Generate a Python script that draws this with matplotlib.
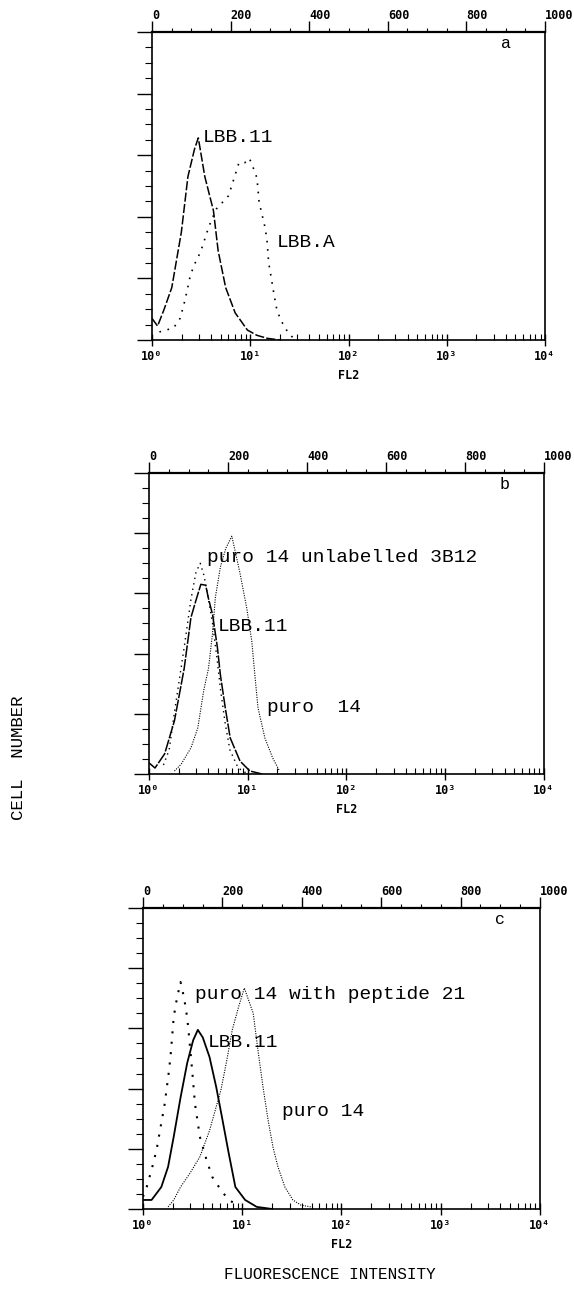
import numpy as np
import matplotlib
matplotlib.use('Agg')
from matplotlib import pyplot as plt
from matplotlib.ticker import FixedLocator, NullFormatter

plt.rcParams['font.family'] = ['Liberation Mono', 'DejaVu Sans Mono']

# ---- data (FL2 intensity, relative cell number 0..100) ----
# panel a
a_lbb11_x = [1.0, 1.14, 1.33, 1.59, 1.99, 2.32, 2.71, 2.96, 3.45, 4.22, 4.71, 5.62, 7.02, 9.36, 11.7, 15.0, 20.0]
a_lbb11_y = [7.0, 4.5, 10.0, 17.0, 35.0, 53.0, 62.0, 65.6, 53.0, 42.0, 29.0, 17.0, 8.8, 3.2, 1.5, 0.5, 0.0]
a_lbba_x = [1.19, 1.66, 1.94, 2.17, 2.42, 2.65, 2.96, 3.23, 3.78, 4.51, 6.01, 7.02, 7.67, 8.77, 9.79,
            10.7, 11.7, 12.3, 13.2, 14.1, 14.8, 15.4, 16.2, 17.4, 18.6, 20.4, 23.4, 27.5]
a_lbba_y = [2.6, 3.9, 7.1, 13.0, 20.0, 24.0, 27.0, 30.0, 36.7, 42.5, 46.8, 53.6, 57.5, 57.5, 59.0,
            56.0, 52.6, 44.8, 40.6, 36.7, 32.5, 25.0, 21.0, 15.0, 10.0, 6.5, 3.2, 0.5]

# panel b
b_lbb11_x = [1.0, 1.15, 1.44, 1.81, 2.27, 2.66, 2.99, 3.35, 3.75, 4.0, 4.4, 4.93, 5.28, 5.92, 6.64, 8.35, 10.5, 14.0]
b_lbb11_y = [3.7, 2.0, 6.7, 17.7, 35.0, 52.0, 57.7, 63.0, 62.7, 58.3, 53.0, 42.0, 33.0, 22.0, 12.0, 4.3, 1.0, 0.0]
b_unlab_x = [1.4, 1.6, 1.8, 2.0, 2.27, 2.66, 2.99, 3.3, 3.6, 3.9, 4.4, 4.9, 5.3, 5.9, 6.6, 8.0, 10.0]
b_unlab_y = [3.0, 8.0, 20.0, 30.0, 42.0, 58.0, 67.0, 70.0, 66.0, 60.0, 50.0, 38.0, 28.0, 17.0, 8.0, 2.0, 0.0]
b_puro_x = [1.81, 2.12, 2.66, 3.12, 3.58, 4.0, 4.4, 4.7, 5.28, 6.0, 6.9, 8.35, 9.78, 11.0, 11.8, 12.7, 14.9, 17.9, 21.0]
b_puro_y = [1.0, 3.3, 8.7, 15.3, 27.7, 35.0, 46.7, 58.7, 68.7, 75.0, 79.0, 66.7, 55.0, 44.0, 33.0, 22.0, 12.0, 5.3, 1.0]

# panel c
c_lbb11_x = [1.0, 1.22, 1.53, 1.79, 2.04, 2.39, 2.79, 3.2, 3.57, 4.0, 4.68, 5.47, 6.25, 7.3, 8.53, 10.7, 14.0, 20.0]
c_lbb11_y = [3.0, 3.0, 7.3, 14.0, 24.0, 37.0, 48.5, 56.0, 59.5, 57.0, 50.5, 40.5, 30.5, 18.6, 7.3, 3.0, 0.7, 0.0]
c_pep_x = [1.0, 1.09, 1.22, 1.37, 1.53, 1.64, 1.83, 1.91, 2.04, 2.2, 2.39, 2.6, 2.79, 2.92, 3.13, 3.34, 3.74, 4.37, 5.0, 6.1, 7.3, 9.0]
c_pep_y = [4.0, 7.3, 13.0, 19.6, 28.6, 34.0, 46.0, 52.0, 63.8, 70.0, 75.4, 70.0, 63.5, 57.0, 46.0, 35.0, 24.0, 16.3, 10.6, 6.3, 3.0, 1.3]
c_puro_x = [1.79, 2.04, 2.39, 2.99, 3.74, 4.68, 5.47, 6.1, 7.0, 7.94, 9.17, 10.5, 12.9, 14.5, 16.2, 18.2, 20.4, 22.9, 26.9, 32.4, 38.9, 49.0]
c_puro_y = [0.7, 3.0, 7.3, 12.0, 17.3, 26.0, 34.0, 39.5, 49.5, 59.5, 67.0, 73.4, 65.0, 52.0, 40.5, 29.6, 20.6, 14.0, 7.3, 3.0, 1.3, 0.7]

log_ticks = [1, 10, 100, 1000, 10000]
log_labels = ['10⁰', '10¹', '10²', '10³', '10⁴']
top_ticks = [0, 200, 400, 600, 800, 1000]
top_labels = ['0', '200', '400', '600', '800', '1000']

fig = plt.figure(figsize=(5.74, 13.09), dpi=100)

tickfont = dict(family='DejaVu Sans Mono', size=8.5, weight='bold')


def make_panel(rect, letter):
    ax = fig.add_axes(rect)
    ax.set_xscale('log')
    ax.set_xlim(1, 10000)
    ax.set_ylim(0, 100)
    ax.set_xticks(log_ticks)
    ax.set_xticklabels(log_labels, fontdict=tickfont)
    ax.xaxis.set_minor_locator(FixedLocator([m * d for d in log_ticks[:-1] for m in range(2, 10)]))
    ax.xaxis.set_minor_formatter(NullFormatter())
    ax.tick_params(axis='x', which='major', direction='inout', length=9, width=1, pad=3)
    ax.tick_params(axis='x', which='minor', direction='in', length=4, width=0.8)
    ax.set_yticks(np.arange(0, 101, 20))
    ax.set_yticks(np.arange(0, 101, 5), minor=True)
    ax.set_yticklabels([])
    ax.tick_params(axis='y', which='major', direction='out', length=11, width=1)
    ax.tick_params(axis='y', which='minor', direction='out', length=5, width=0.8)
    for s in ax.spines.values():
        s.set_linewidth(1.2)
    ax.set_xlabel('FL2', fontdict=dict(family='DejaVu Sans Mono', size=8.5, weight='bold'), labelpad=4)

    top = ax.twiny()
    top.set_xlim(0, 1000)
    top.set_xticks(top_ticks)
    top.set_xticklabels(top_labels, fontdict=tickfont)
    top.set_xticks(np.arange(0, 1001, 50), minor=True)
    top.tick_params(axis='x', which='major', direction='out', length=8, width=1, pad=-1)
    top.tick_params(axis='x', which='minor', direction='out', length=3, width=0.8)
    for t in top.get_xticklabels():
        t.set_ha('left')
    for s in top.spines.values():
        s.set_visible(False)
    top.spines['top'].set_visible(True)
    top.spines['top'].set_linewidth(1.6)

    ax.text(0.9, 0.962, letter, transform=ax.transAxes, ha='center', va='center', fontsize=12)
    return ax


lab = dict(fontsize=14, va='center', ha='left')

# panel a
ax = make_panel([0.2648, 0.7403, 0.6847, 0.2353], 'a')
ax.plot(a_lbb11_x, a_lbb11_y, color='black', lw=1.1, ls=(0, (6, 1.5)))
ax.plot(a_lbba_x, a_lbba_y, color='black', lw=1.2, ls=(0, (1, 4)))
ax.text(0.13, 0.656, 'LBB.11', transform=ax.transAxes, **lab)
ax.text(0.318, 0.315, 'LBB.A', transform=ax.transAxes, **lab)

# panel b
ax = make_panel([0.2596, 0.4087, 0.688, 0.2300], 'b')
ax.plot(b_lbb11_x, b_lbb11_y, color='black', lw=1.1, ls=(0, (8, 1)))
ax.plot(b_unlab_x, b_unlab_y, color='black', lw=1.0, ls=(0, (1, 3)))
ax.plot(b_puro_x, b_puro_y, color='black', lw=0.8, ls=(0, (1, 1.2)))
ax.text(0.147, 0.718, 'puro 14 unlabelled 3B12', transform=ax.transAxes, **lab)
ax.text(0.175, 0.49, 'LBB.11', transform=ax.transAxes, **lab)
ax.text(0.30, 0.22, 'puro  14', transform=ax.transAxes, **lab)

# panel c
ax = make_panel([0.2491, 0.0764, 0.6916, 0.2300], 'c')
ax.plot(c_lbb11_x, c_lbb11_y, color='black', lw=1.3)
ax.plot(c_pep_x, c_pep_y, color='black', lw=1.5, ls=(0, (1, 4)))
ax.plot(c_puro_x, c_puro_y, color='black', lw=0.8, ls=(0, (1, 1.2)))
ax.text(0.13, 0.712, 'puro 14 with peptide 21', transform=ax.transAxes, **lab)
ax.text(0.164, 0.552, 'LBB.11', transform=ax.transAxes, **lab)
ax.text(0.35, 0.325, 'puro 14', transform=ax.transAxes, **lab)

fig.text(0.033, 0.421, 'CELL  NUMBER', rotation=90, ha='center', va='center', fontsize=12.5)
fig.text(0.575, 0.026, 'FLUORESCENCE INTENSITY', ha='center', va='center', fontsize=11.5)

fig.savefig('out.png', dpi=100)
